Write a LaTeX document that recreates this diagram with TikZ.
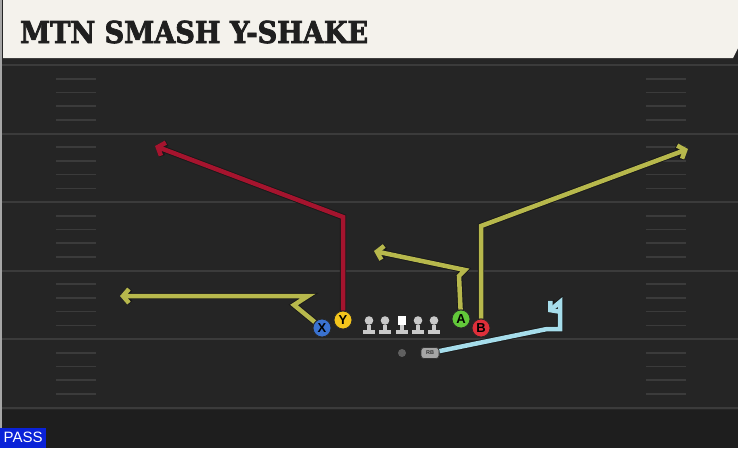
\documentclass[tikz,border=0pt]{standalone}
\usepackage{fontspec}
\setsansfont{Liberation Sans}
\newfontfamily\titlefont[FakeBold=2.5]{DejaVu Serif Condensed Bold}
\usetikzlibrary{arrows.meta}

\definecolor{fieldbg}{HTML}{252525}
\definecolor{fieldlow}{HTML}{1E1E1E}
\definecolor{yardline}{HTML}{3B3B3B}
\definecolor{titlebg}{HTML}{F4F2EC}
\definecolor{routeolive}{HTML}{B7B84C}
\definecolor{routered}{HTML}{A5142E}
\definecolor{routeblue}{HTML}{A6DDEB}
\definecolor{xblue}{HTML}{3A72D0}
\definecolor{yyellow}{HTML}{F4C51C}
\definecolor{agreen}{HTML}{62C83A}
\definecolor{bred}{HTML}{DE2F3A}
\definecolor{linegray}{HTML}{C9C9C9}
\definecolor{passblue}{HTML}{0A22D8}

\tikzset{
  player/.style={circle, draw=black!85, line width=0.8pt, minimum size=18pt,
    inner sep=0pt, font=\sffamily\bfseries\fontsize{13}{13}\selectfont},
  route/.style={line width=4.5pt, line join=miter,
    preaction={draw=black!90, line width=6.3pt},
    -{Straight Barb[length=6pt, width=14pt]}},
  backfield/.style={rounded corners=3pt, fill=gray!70, draw=black!80, line width=0.7pt,
    minimum width=18pt, minimum height=11pt, inner sep=0pt,
    font=\sffamily\bfseries\fontsize{5.5}{5.5}\selectfont, text=black!80},
  lineman/.style={minimum width=13pt, minimum height=18pt, inner sep=0pt,
    path picture={
      \fill[linegray] ([xshift=-2pt]path picture bounding box.center) rectangle ([xshift=2pt,yshift=-5pt]path picture bounding box.center);
      \fill[linegray] ([xshift=-6pt,yshift=-4.5pt]path picture bounding box.center) rectangle ([xshift=6pt,yshift=-9pt]path picture bounding box.center);
      \fill[linegray] ([yshift=4.5pt]path picture bounding box.center) circle (4.3pt);
    }},
  centerman/.style={minimum width=13pt, minimum height=18pt, inner sep=0pt,
    path picture={
      \fill[linegray] ([xshift=-2pt]path picture bounding box.center) rectangle ([xshift=2pt,yshift=-5pt]path picture bounding box.center);
      \fill[linegray] ([xshift=-6pt,yshift=-4.5pt]path picture bounding box.center) rectangle ([xshift=6pt,yshift=-9pt]path picture bounding box.center);
      \fill[white] ([xshift=-4.3pt,yshift=0pt]path picture bounding box.center) rectangle ([xshift=4.3pt,yshift=9pt]path picture bounding box.center);
    }},
}

\begin{document}
\begin{tikzpicture}[x=1pt, y=-1pt]

  % Field
  \fill[fieldbg] (0,0) rectangle (738,448);
  \fill[fieldlow] (0,410) rectangle (738,448);
  \useasboundingbox (0,0) rectangle (738,448);
  \draw[gray!70, line width=2pt] (1,0) -- (1,448);

  % Yard lines and hashes
  \foreach \k in {0,...,5}
    \draw[yardline, line width=2pt] (2,65+68.5*\k) -- (738,65+68.5*\k);
  \foreach \k in {0,...,4}
    \foreach \j in {1,...,4} {
      \draw[yardline, line width=1.6pt] (56,65+68.5*\k+13.7*\j) -- (96,65+68.5*\k+13.7*\j);
      \draw[yardline, line width=1.6pt] (646,65+68.5*\k+13.7*\j) -- (686,65+68.5*\k+13.7*\j);
    }

  % Title bar
  \fill[black!85] (3,57) rectangle (738,63);
  \fill[titlebg] (3,0) -- (738,0) -- (738,48) -- (733,58) -- (3,58) -- cycle;
  \node[anchor=base west, inner sep=0pt, text=black!88] (title) at (20,43)
    {\resizebox{348pt}{!}{\titlefont\fontsize{30}{30}\selectfont MTN SMASH Y-SHAKE}};

  % Define nodes
  \node[player, fill=xblue]   (X) at (322,328) {X};
  \node[player, fill=yyellow] (Y) at (343,320) {Y};
  \node[player, fill=agreen]  (A) at (461,319) {A};
  \node[player, fill=bred]    (B) at (481,328) {B};
  \node[lineman]   (LT) at (369,325) {};
  \node[lineman]   (LG) at (385,325) {};
  \node[centerman] (C)  at (402,325) {};
  \node[lineman]   (RG) at (418,325) {};
  \node[lineman]   (RT) at (434,325) {};
  \node[circle, fill=gray!75!black, minimum size=8pt, inner sep=0pt] (QB) at (402,353) {};
  \node[backfield] (RB) at (430,353) {RB};

  % Routes
  \draw[route, routeolive] (X) -- (294,305) -- (308,296) -- (120,296);
  \draw[route, routered] (Y) -- (343,217) -- (155,146);
  \draw[route, routeolive] (A) -- (459,276) -- (465,270) -- (374,251);
  \draw[route, routeolive] (B) -- (481,226) -- (688,149);
  \draw[route, routeblue] (RB) -- (547,329) -- (560,329) -- (560,302) -- (548,312);

  % Players on top of routes
  \node[player, fill=xblue]   at (X) {X};
  \node[player, fill=yyellow] at (Y) {Y};
  \node[player, fill=agreen]  at (A) {A};
  \node[player, fill=bred]    at (B) {B};
  \node[backfield] at (RB) {RB};

  % Play type
  \node[fill=passblue, text=white, anchor=south west, minimum width=46pt, minimum height=20pt,
    inner sep=0pt, font=\sffamily\fontsize{15}{15}\selectfont] (pass) at (0,448) {PASS};

\end{tikzpicture}
\end{document}
